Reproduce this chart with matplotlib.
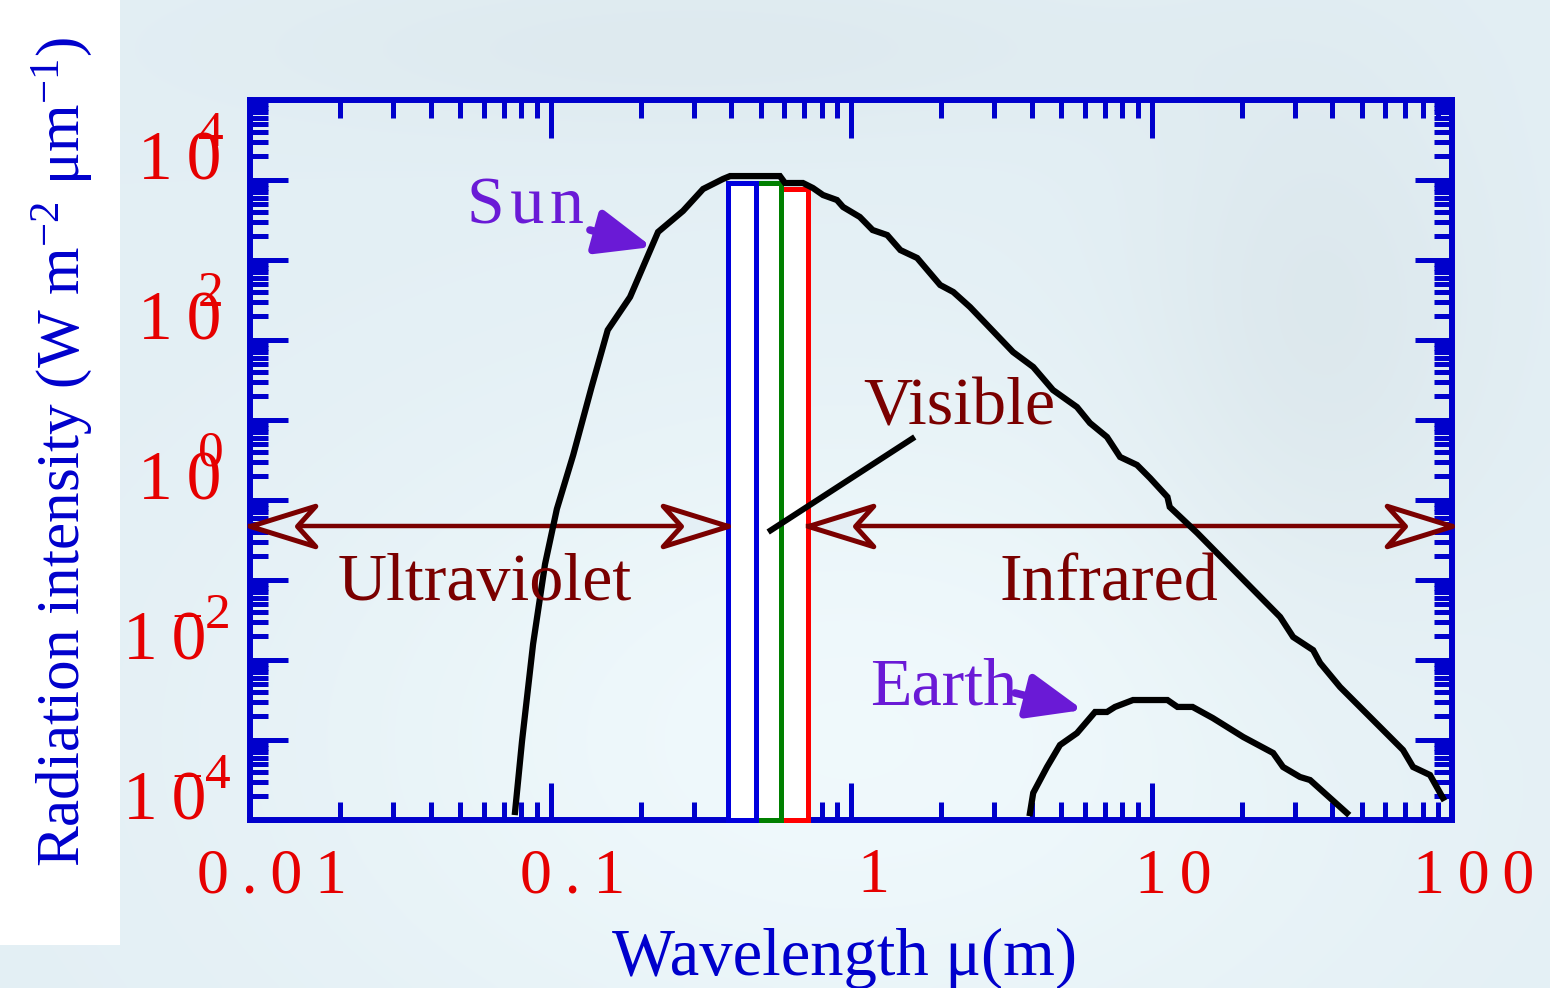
import numpy as np
import matplotlib
matplotlib.use("Agg")
import matplotlib.pyplot as plt
from matplotlib.patches import Rectangle
from matplotlib.path import Path
from matplotlib.ticker import LogLocator, NullFormatter
from matplotlib.transforms import offset_copy

plt.rcParams['font.family'] = ['Liberation Serif', 'DejaVu Serif']
plt.rcParams['mathtext.fontset'] = 'custom'
plt.rcParams['mathtext.rm'] = 'Liberation Serif'
plt.rcParams['mathtext.it'] = 'Liberation Serif:italic'

# ---- spectra: wavelength (um) and radiation intensity (W m-2 um-1) ----
sun_wl = [0.0762, 0.0804, 0.0875, 0.0959, 0.105, 0.119, 0.137, 0.155, 0.184,
          0.228, 0.276, 0.322, 0.375, 0.396, 0.580, 0.603, 0.692, 0.747,
          0.807, 0.898, 0.941, 1.07, 1.18, 1.32, 1.46, 1.66, 1.98, 2.19, 2.49,
          3.46, 4.04, 4.70, 5.65, 6.24, 7.11, 7.86, 8.95, 9.89, 11.3, 11.5,
          14.2, 26.8, 29.6, 34.5, 36.4, 42.4, 68.7, 74.2, 84.5, 93.3]
sun_flux = [1.26e-4, 9.7e-4, 0.0158, 0.158, 0.772, 3.65, 25.8, 133, 345,
            2240, 4100, 7720, 10300, 11200, 11200, 9170, 9170, 7940,
            6490, 5620, 4600, 3450, 2370, 2050, 1330, 1060, 487, 398, 258,
            70.8, 46.0, 23.7, 14.5, 9.17, 6.13, 3.45, 2.74, 1.88, 1.09, 0.818,
            0.387, 0.0345, 0.0194, 0.0133, 0.00918, 0.0046, 7.5e-4, 4.6e-4,
            3.65e-4, 1.88e-4]

earth_wl = [3.94, 4.04, 4.49, 4.96, 5.65, 6.49, 7.11, 7.56, 8.68, 11.3, 12.2,
            13.7, 16.0, 20.2, 25.4, 27.4, 31.2, 33.7, 44.7]
earth_flux = [1.22e-4, 2.18e-4, 4.6e-4, 8.66e-4, 1.22e-3, 2.24e-3, 2.24e-3,
              2.59e-3, 3.16e-3, 3.16e-3, 2.59e-3, 2.59e-3, 1.88e-3, 1.09e-3,
              6.88e-4, 4.6e-4, 3.45e-4, 3.16e-4, 1.22e-4]

# visible bands (blue, green, red)
band_edges = [0.39, 0.483, 0.585, 0.72]
band_tops = [9170, 9170, 7720]
band_colors = ['#0000dd', '#008000', '#ff0000']

# axis ticks
x_ticks = [0.01, 0.1, 1, 10, 100]
x_tick_labels = ['0.01', '0.1', '1', '10', '100']
y_exponents = [4, 2, 0, -2, -4]

# spectral region arrows
region_level = 0.48
uv_range = (0.01, 0.39)
ir_range = (0.72, 100)

BLUE = '#0000cc'
RED = '#e60000'
MAROON = '#7a0000'
PURPLE = '#6a1ad6'
BG = '#e4eff5'

fig = plt.figure(figsize=(15.5, 9.88), dpi=100)
fig.patch.set_facecolor(BG)

# soft washed background
bg = fig.add_axes([0, 0, 1, 1], zorder=-10)
h, w = 247, 388
yy, xx = np.mgrid[0:1:h * 1j, 0:1:w * 1j]
img = np.ones((h, w, 3)) * np.array([0.890, 0.937, 0.958])


def blob(cx, cy, sx, sy):
    return np.exp(-((xx - cx) ** 2 / (2 * sx ** 2) + (yy - cy) ** 2 / (2 * sy ** 2)))


img += 0.05 * blob(0.55, 0.75, 0.25, 0.25)[..., None] * np.array([1, 0.8, 0.6])
img -= 0.03 * blob(0.85, 0.35, 0.08, 0.2)[..., None]
img -= 0.02 * blob(0.45, 0.05, 0.2, 0.06)[..., None]
img = np.clip(img, 0, 1)
bg.imshow(img, extent=[0, 1, 0, 1], aspect='auto', interpolation='bicubic')
bg.set_xlim(0, 1)
bg.set_ylim(0, 1)
bg.axis('off')
bg.add_patch(Rectangle((0, 43 / 988), 120 / 1550, 945 / 988,
                       facecolor='white', edgecolor='none'))

ax = fig.add_axes([250 / 1550, 168 / 988, 1202 / 1550, 720 / 988])
ax.set_xscale('log')
ax.set_yscale('log')
ax.set_xlim(0.01, 100)
ax.set_ylim(1e-4, 1e5)
ax.patch.set_alpha(0)

for s in ax.spines.values():
    s.set_color(BLUE)
    s.set_linewidth(4.3)

for axis in (ax.xaxis, ax.yaxis):
    axis.set_major_locator(LogLocator(base=10, subs=(1.0,), numticks=30))
    axis.set_minor_locator(LogLocator(base=10, subs=np.arange(2, 10), numticks=30))
    axis.set_minor_formatter(NullFormatter())
ax.tick_params(which='both', direction='in', top=True, right=True,
               color=BLUE, width=3.6, labelbottom=False, labelleft=False)
ax.tick_params(which='major', length=27)
ax.tick_params(which='minor', length=13)

# x tick labels (letter-spaced)
x_lab_tr = offset_copy(ax.get_xaxis_transform(), fig=fig, x=22, y=-28, units='dots')
for xv, lab in zip(x_ticks, x_tick_labels):
    ax.text(xv, 0, '\u2009'.join(lab), transform=x_lab_tr, ha='center', va='top',
            fontsize=46, color=RED, clip_on=False)

# y tick labels: decades with overlapping superscript
for e in y_exponents:
    yv = 10.0 ** e
    if e >= 0:
        base_dx, sup_dx, sup_dy = -112, -52, 34
    else:
        base_dx, sup_dx, sup_dy = -127, -45, 32
    tr = offset_copy(ax.get_yaxis_transform(), fig=fig, x=base_dx, y=0, units='dots')
    ax.text(0, yv, '1\u20090', transform=tr, ha='left', va='baseline',
            fontsize=50, color=RED, clip_on=False)
    tr = offset_copy(ax.get_yaxis_transform(), fig=fig, x=sup_dx, y=sup_dy, units='dots')
    ax.text(0, yv, str(abs(e)), transform=tr, ha='left', va='baseline',
            fontsize=37, color=RED, clip_on=False)
    if e < 0:
        tr = offset_copy(ax.get_yaxis_transform(), fig=fig, x=-76, y=sup_dy, units='dots')
        ax.text(0, yv, '\u2013', transform=tr, ha='left', va='baseline',
                fontsize=37, color=RED, clip_on=False)

# visible bands
for i in reversed(range(3)):
    x0, x1 = band_edges[i], band_edges[i + 1]
    ax.add_patch(Rectangle((x0, 1e-4), x1 - x0, band_tops[i],
                           facecolor='white', edgecolor=band_colors[i],
                           linewidth=3.6, zorder=3 + 0.1 * (2 - i),
                           clip_on=False, joinstyle='miter'))

# spectra
ax.plot(sun_wl, sun_flux, color='black', lw=4.5, zorder=5,
        solid_joinstyle='miter', clip_on=False)
ax.plot(earth_wl, earth_flux, color='black', lw=4.5, zorder=5,
        solid_joinstyle='miter', clip_on=False)

# open arrowheads for spectral regions
head_r = Path([(0, 0), (-1, 0.31), (-0.72, 0), (-1, -0.31), (0, 0)],
              [Path.MOVETO, Path.LINETO, Path.LINETO, Path.LINETO, Path.CLOSEPOLY])
head_l = Path([(0, 0), (1, 0.31), (0.72, 0), (1, -0.31), (0, 0)],
              [Path.MOVETO, Path.LINETO, Path.LINETO, Path.LINETO, Path.CLOSEPOLY])
for (a, b) in (uv_range, ir_range):
    ax.plot([a, b], [region_level, region_level], color=MAROON, lw=3.2,
            zorder=4, clip_on=False)
    ax.plot([a], [region_level], marker=head_l, ms=94, mfc=BG, mec=MAROON,
            mew=3.6, zorder=4.5, clip_on=False)
    ax.plot([b], [region_level], marker=head_r, ms=94, mfc=BG, mec=MAROON,
            mew=3.6, zorder=4.5, clip_on=False)

# pointer to the visible bands
ax.plot([0.53, 1.63], [0.398, 6.13], color='black', lw=4.3, zorder=6,
        solid_capstyle='butt')

# text annotations
txt = dict(fontsize=49, ha='left', va='baseline', zorder=7)
ax.text(0.0527, 2900, 'S\u200au\u200an', color=PURPLE, **txt)
ax.text(1.157, 2.74e-3, 'Earth', color=PURPLE, **txt)
ax.text(1.096, 8.66, 'Visible', color=MAROON, **txt)
ax.text(0.0196, 0.0562, 'Ultraviolet', color=MAROON, **txt)
ax.text(3.13, 0.0562, 'Infrared', color=MAROON, **txt)

arrow_kw = dict(arrowstyle='-|>,head_length=1.35,head_width=0.55', color=PURPLE,
                lw=5.5, mutation_scale=25, shrinkA=0, shrinkB=0)
ax.annotate('', xy=(0.2177, 1454), xytext=(0.1353, 2371), arrowprops=arrow_kw,
            zorder=7)
ax.annotate('', xy=(5.916, 2.37e-3), xytext=(3.514, 3.87e-3), arrowprops=arrow_kw,
            zorder=7)

# axis titles
fig.text(62 / 1550, (988 - 452) / 988,
         'Radiation intensity (W m$^{-2}$ \u03bcm$^{-1}$)',
         rotation=90, ha='center', va='center', fontsize=44, color=BLUE)
fig.text(845 / 1550, 13 / 988, 'Wavelength \u03bc(m)', ha='center',
         va='baseline', fontsize=48, color=BLUE)

fig.savefig('out.png', dpi=100, facecolor=fig.get_facecolor())
